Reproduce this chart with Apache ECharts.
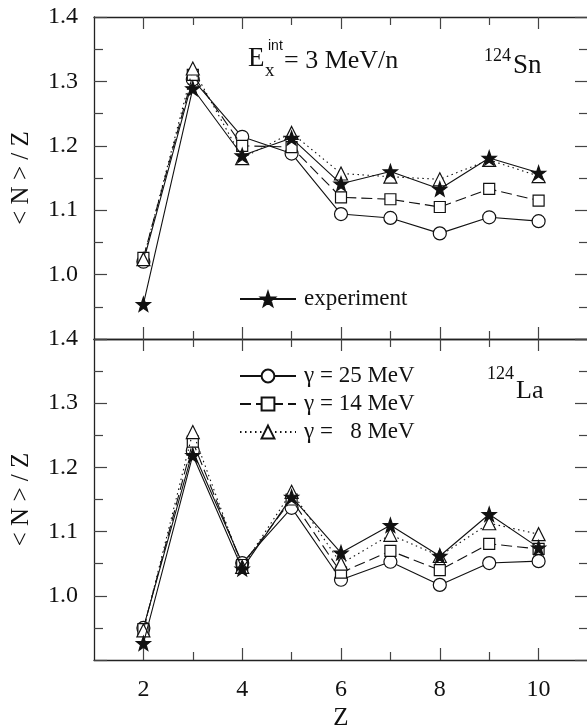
<!DOCTYPE html>
<html>
<head>
<meta charset="utf-8">
<script src="https://cdn.jsdelivr.net/npm/echarts@6/dist/echarts.min.js"></script>
<style>html,body{margin:0;padding:0;background:#fff;}#c{width:587px;height:728px;}</style>
</head>
<body>
<div id="c"></div>
<script>
// ---- data ----
const Z = [2, 3, 4, 5, 6, 7, 8, 9, 10];
const seriesNames = ['γ = 25 MeV', 'γ = 14 MeV', 'γ =   8 MeV', 'experiment'];
// 124Sn (top panel)
const snG25 = [1.020, 1.303, 1.214, 1.188, 1.094, 1.088, 1.064, 1.089, 1.083];
const snG14 = [1.026, 1.310, 1.200, 1.198, 1.120, 1.117, 1.105, 1.133, 1.115];
const snG8  = [1.024, 1.320, 1.181, 1.220, 1.157, 1.152, 1.148, 1.178, 1.153];
const snExp = [0.954, 1.289, 1.185, 1.212, 1.141, 1.160, 1.133, 1.181, 1.158];
// 124La (bottom panel)
const laG25 = [0.950, 1.226, 1.051, 1.137, 1.025, 1.053, 1.017, 1.051, 1.054];
const laG14 = [0.948, 1.240, 1.048, 1.150, 1.036, 1.070, 1.040, 1.081, 1.073];
const laG8  = [0.946, 1.255, 1.045, 1.162, 1.050, 1.095, 1.062, 1.113, 1.096];
const laExp = [0.926, 1.219, 1.042, 1.154, 1.067, 1.110, 1.062, 1.127, 1.075];
const xMajorTicks = [2, 4, 6, 8, 10];
const xMinorTicks = [3, 5, 7, 9];

// ---- styling ----
const FONT = 'Liberation Serif';
const INK = '#111';
const AX = '#222';
const STAR = 'path://M0,-10 L2.35,-3.24 L9.51,-3.09 L3.8,1.24 L5.88,8.09 L0,4.2 L-5.88,8.09 L-3.8,1.24 L-9.51,-3.09 L-2.35,-3.24 Z';

const chart = echarts.init(document.getElementById('c'), null, {renderer: 'canvas'});

const G = {left: 94, width: 494};
const grids = [
  {left: G.left, width: G.width, top: 17, height: 322, outerBoundsMode: 'none', containLabel: false},
  {left: G.left, width: G.width, top: 339, height: 321, outerBoundsMode: 'none', containLabel: false},
  {left: G.left, width: G.width, top: 17, height: 322, outerBoundsMode: 'none', containLabel: false},
  {left: G.left, width: G.width, top: 339, height: 321, outerBoundsMode: 'none', containLabel: false}
];

function xAx(grid, pos, ticks, len, opts) {
  return Object.assign({
    type: 'value', gridIndex: grid, position: pos, min: 1, max: 11, interval: 1,
    axisLine: {show: true, onZero: false, lineStyle: {color: AX, width: 1.3}},
    axisTick: {show: true, inside: true, length: len, customValues: ticks, lineStyle: {color: '#444', width: 1.2}},
    axisLabel: {show: false},
    splitLine: {show: false}
  }, opts || {});
}
function yAx(grid, pos, labels, opts) {
  return Object.assign({
    type: 'value', gridIndex: grid, position: pos, min: 0.9, max: 1.4, interval: 0.1,
    axisLine: {show: true, onZero: false, lineStyle: {color: AX, width: 1.3}},
    axisTick: {show: true, inside: true, length: 13, lineStyle: {color: '#444', width: 1.2}},
    minorTick: {show: true, splitNumber: 2, length: 9, lineStyle: {color: '#444', width: 1.2}},
    axisLabel: labels ? {show: true, margin: 16, fontFamily: FONT, fontSize: 24, color: INK,
      formatter: v => (v < 0.95 ? '' : v.toFixed(1))} : {show: false},
    splitLine: {show: false}, minorSplitLine: {show: false}
  }, opts || {});
}

const yName = {
  name: '< N > / Z', nameLocation: 'middle', nameGap: 60, nameRotate: 90,
  nameTextStyle: {fontFamily: FONT, fontSize: 25, color: INK}
};

const xAxis = [
  xAx(0, 'bottom', xMajorTicks, 12),
  xAx(0, 'top', xMajorTicks, 12),
  xAx(1, 'bottom', xMajorTicks, 12, {
    axisLabel: {show: true, customValues: xMajorTicks, margin: 18, fontFamily: FONT, fontSize: 24, color: INK},
    name: 'Z', nameLocation: 'middle', nameGap: 46,
    nameTextStyle: {fontFamily: FONT, fontSize: 25, color: INK}
  }),
  xAx(1, 'top', xMajorTicks, 12),
  xAx(2, 'bottom', xMinorTicks, 8, {axisLine: {show: false}}),
  xAx(2, 'top', xMinorTicks, 8, {axisLine: {show: false}}),
  xAx(3, 'bottom', xMinorTicks, 8, {axisLine: {show: false}}),
  xAx(3, 'top', xMinorTicks, 8, {axisLine: {show: false}})
];
const yAxis = [
  yAx(0, 'left', true, yName),
  yAx(0, 'right', false),
  yAx(1, 'left', true, yName),
  yAx(1, 'right', false),
  {type: 'value', gridIndex: 2, min: 0.9, max: 1.4, show: false},
  {type: 'value', gridIndex: 3, min: 0.9, max: 1.4, show: false}
];

const kinds = [
  {symbol: 'circle', size: 13, dash: 'solid', fill: '#fff'},
  {symbol: 'rect', size: 11, dash: [11, 5], fill: '#fff'},
  {symbol: 'triangle', size: 13, dash: [1.5, 3.5], fill: '#fff'},
  {symbol: STAR, size: 14, dash: 'solid', fill: '#111'}
];
function mk(k, vals, panel) {
  const kd = kinds[k];
  return {
    type: 'line', name: seriesNames[k],
    xAxisIndex: panel === 0 ? 0 : 2, yAxisIndex: panel === 0 ? 0 : 2,
    data: Z.map((z, i) => [z, vals[i]]),
    symbol: kd.symbol, symbolSize: kd.size, showAllSymbol: true,
    lineStyle: {color: '#111', width: 1.1, type: kd.dash},
    itemStyle: {color: kd.fill, borderColor: '#111', borderWidth: 1.2},
    emphasis: {disabled: true}, animation: false, z: 2 + k
  };
}
// draw order: triangle, square, circle, star
const series = [
  mk(2, snG8, 0), mk(1, snG14, 0), mk(0, snG25, 0), mk(3, snExp, 0),
  mk(2, laG8, 1), mk(1, laG14, 1), mk(0, laG25, 1), mk(3, laExp, 1)
];

const legendText = {fontFamily: FONT, fontSize: 23, color: INK, lineHeight: 24, padding: [0, 0, 0, 3]};
const legend = [
  {data: ['experiment'], left: 234, top: 282, itemWidth: 56, itemHeight: 17,
   selectedMode: false, textStyle: legendText},
  {data: [seriesNames[0], seriesNames[1], seriesNames[2]], orient: 'vertical',
   left: 234, top: 359, itemGap: 4, itemWidth: 56, itemHeight: 16,
   selectedMode: false, textStyle: legendText}
];

const T = (text, x, y, size, family) => ({
  type: 'text', x: x, y: y, silent: true,
  style: {text: text, fill: INK, font: size + 'px "' + (family || FONT) + '"', textVerticalAlign: 'middle'}
});
const graphic = [
  T('E', 248, 59, 27),
  T('int', 268, 46, 14, 'Liberation Sans'),
  T('x', 265, 71, 19),
  T('= 3 MeV/n', 284, 61, 26),
  T('124', 484, 56, 18),
  T('Sn', 513, 66, 27),
  T('124', 487, 374, 18),
  T('La', 516, 391, 26)
];

chart.setOption({
  animation: false,
  backgroundColor: '#fff',
  grid: grids, xAxis: xAxis, yAxis: yAxis, series: series, legend: legend, graphic: graphic
});
</script>
</body>
</html>
